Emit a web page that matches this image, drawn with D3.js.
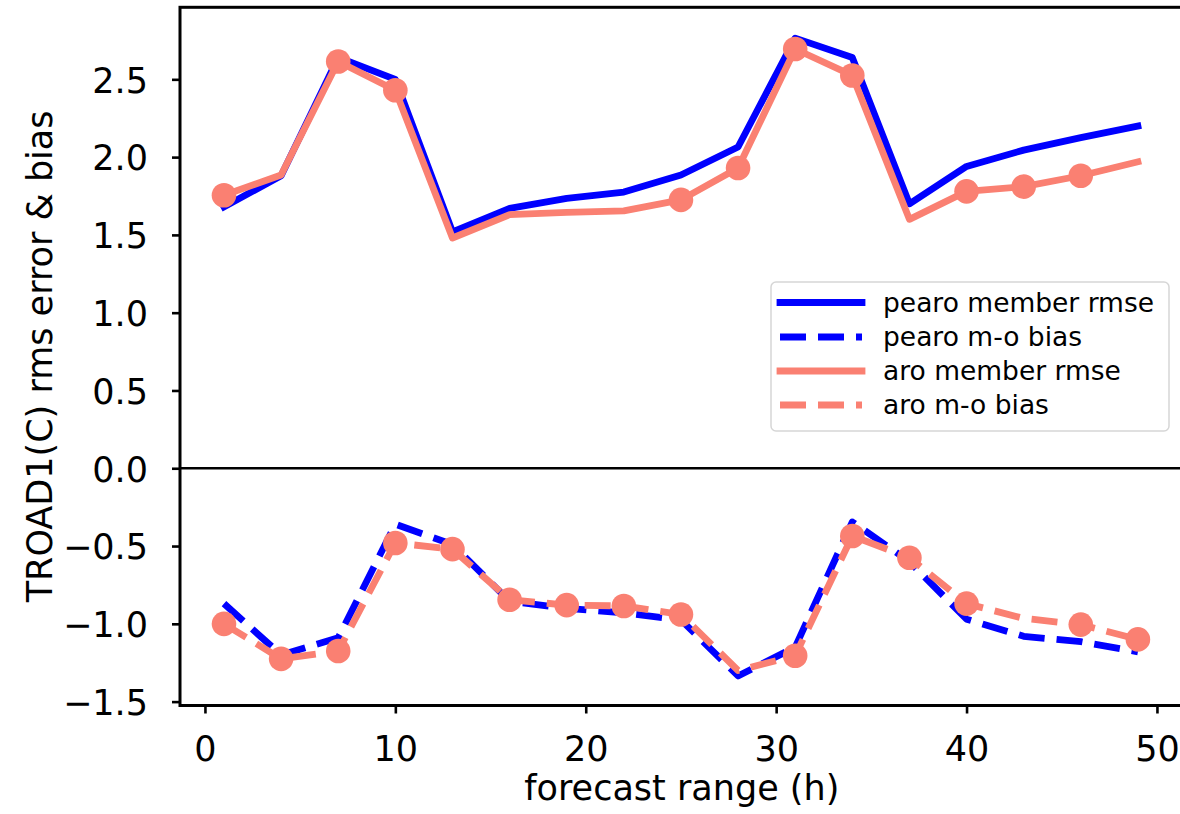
<!DOCTYPE html>
<html>
<head>
<meta charset="utf-8">
<script src="https://cdn.jsdelivr.net/npm/d3@7"></script>
<style>
  html, body { margin: 0; padding: 0; background: #fff; }
  svg { display: block; }
  text { font-family: "DejaVu Sans", sans-serif; fill: #000; }
</style>
</head>
<body>
<svg id="chart" width="1180" height="814"></svg>
<script>
// forecast range (h)
const hours = [1, 4, 7, 10, 13, 16, 19, 22, 25, 28, 31, 34, 37, 40, 43, 46, 49];

// rms error of the members
const pearoRmse = [1.68, 1.88, 2.64, 2.50, 1.52, 1.67, 1.735, 1.775, 1.885, 2.065, 2.765, 2.64, 1.70, 1.94, 2.045, 2.125, 2.20];
const aroRmse   = [1.755, 1.885, 2.615, 2.43, 1.48, 1.63, 1.645, 1.655, 1.725, 1.93, 2.695, 2.525, 1.60, 1.78, 1.81, 1.88, 1.97];

// member minus observation bias
const pearoBias = [-0.87, -1.20, -1.09, -0.36, -0.49, -0.855, -0.90, -0.93, -0.975, -1.335, -1.15, -0.345, -0.60, -0.97, -1.08, -1.115, -1.18];
const aroBias   = [-1.00, -1.225, -1.175, -0.48, -0.52, -0.845, -0.88, -0.885, -0.94, -1.30, -1.205, -0.435, -0.575, -0.87, -0.965, -1.005, -1.10];

// forecast ranges highlighted with a dot on the aro curves
const aroRmseDots = [1, 7, 10, 25, 28, 31, 34, 40, 43, 46];
const aroBiasDots = [1, 4, 7, 10, 13, 16, 19, 22, 25, 31, 34, 37, 40, 46, 49];

// axis ticks
const xTicks = [0, 10, 20, 30, 40, 50];
const yTicks = [-1.5, -1.0, -0.5, 0.0, 0.5, 1.0, 1.5, 2.0, 2.5];

const legendLabels = ["pearo member rmse", "pearo m-o bias", "aro member rmse", "aro m-o bias"];

const BLUE = "#0000ff", SALMON = "#fa8072";
const LW = 6.8, DASH = "26,12", FONT = 35;

const svg = d3.select("#chart");

const plot = { left: 180, right: 1183.6, top: 7.3, bottom: 705.5 };
const x = d3.scaleLinear().domain([-1.31, 51.4]).range([plot.left, plot.right]);
const y = d3.scaleLinear().domain([-1.525, 2.963]).range([plot.bottom, plot.top]);

const series = [
  { values: pearoRmse, color: BLUE, dashed: false },
  { values: pearoBias, color: BLUE, dashed: true },
  { values: aroRmse, color: SALMON, dashed: false, dots: aroRmseDots },
  { values: aroBias, color: SALMON, dashed: true, dots: aroBiasDots }
];

// zero reference line
svg.append("line")
  .attr("x1", plot.left).attr("x2", plot.right)
  .attr("y1", y(0)).attr("y2", y(0))
  .attr("stroke", "#000").attr("stroke-width", 2.6);

const line = d3.line().x((d, i) => x(hours[i])).y(d => y(d));

series.forEach(s => {
  svg.append("path")
    .attr("d", line(s.values))
    .attr("fill", "none")
    .attr("stroke", s.color)
    .attr("stroke-width", LW)
    .attr("stroke-linejoin", "round")
    .attr("stroke-linecap", s.dashed ? "butt" : "square")
    .attr("stroke-dasharray", s.dashed ? DASH : null);
  if (s.dots) {
    const pts = hours.map((h, i) => ({ h, v: s.values[i] })).filter(p => s.dots.includes(p.h));
    svg.append("g").selectAll("circle").data(pts).join("circle")
      .attr("cx", p => x(p.h)).attr("cy", p => y(p.v))
      .attr("r", 12.3).attr("fill", s.color);
  }
});

// axes
const xAxis = d3.axisBottom(x).tickValues(xTicks).tickSize(8).tickPadding(6)
  .tickFormat(d3.format("d"));
const yAxis = d3.axisLeft(y).tickValues(yTicks).tickSize(8).tickPadding(6)
  .tickFormat(d => d3.format(".1f")(d).replace("-", "\u2212"));

const gx = svg.append("g").attr("transform", `translate(0,${plot.bottom})`).call(xAxis);
const gy = svg.append("g").attr("transform", `translate(${plot.left},0)`).call(yAxis);
[gx, gy].forEach(g => {
  g.select(".domain").remove();
  g.selectAll(".tick line").attr("stroke", "#000").attr("stroke-width", 2.6);
  g.selectAll(".tick text").attr("font-size", FONT).attr("font-family", "DejaVu Sans").attr("fill", "#000");
});
gx.selectAll(".tick text").attr("dy", null).attr("y", null)
  .attr("transform", "translate(0,55.5)");
gy.selectAll(".tick text").attr("dy", null).attr("x", -32).attr("transform", "translate(0,12.8)");

// frame
svg.append("rect")
  .attr("x", plot.left).attr("y", plot.top)
  .attr("width", plot.right - plot.left).attr("height", plot.bottom - plot.top)
  .attr("fill", "none").attr("stroke", "#000").attr("stroke-width", 3);

// axis titles
svg.append("text")
  .attr("x", (plot.left + plot.right) / 2).attr("y", 800)
  .attr("text-anchor", "middle").attr("font-size", FONT)
  .text("forecast range (h)");
svg.append("text")
  .attr("transform", `translate(52,${(plot.top + plot.bottom) / 2}) rotate(-90)`)
  .attr("text-anchor", "middle").attr("font-size", FONT)
  .text("TROAD1(C) rms error & bias");

// legend
const lg = svg.append("g");
lg.append("rect")
  .attr("x", 771).attr("y", 282).attr("width", 398).attr("height", 149)
  .attr("rx", 5).attr("fill", "#fff").attr("fill-opacity", 0.8)
  .attr("stroke", "#d6d6d6").attr("stroke-width", 1.5);
const rowY = [302.5, 337, 371, 405];
series.forEach((s, i) => {
  lg.append("line")
    .attr("x1", 780).attr("x2", 862)
    .attr("y1", rowY[i]).attr("y2", rowY[i])
    .attr("stroke", s.color).attr("stroke-width", LW)
    .attr("stroke-linecap", s.dashed ? "butt" : "square")
    .attr("stroke-dasharray", s.dashed ? DASH : null);
  lg.append("text")
    .attr("x", 883).attr("y", rowY[i] + 9.3)
    .attr("font-size", 26.5)
    .attr("fill", "#222")
    .text(legendLabels[i]);
});
</script>
</body>
</html>
